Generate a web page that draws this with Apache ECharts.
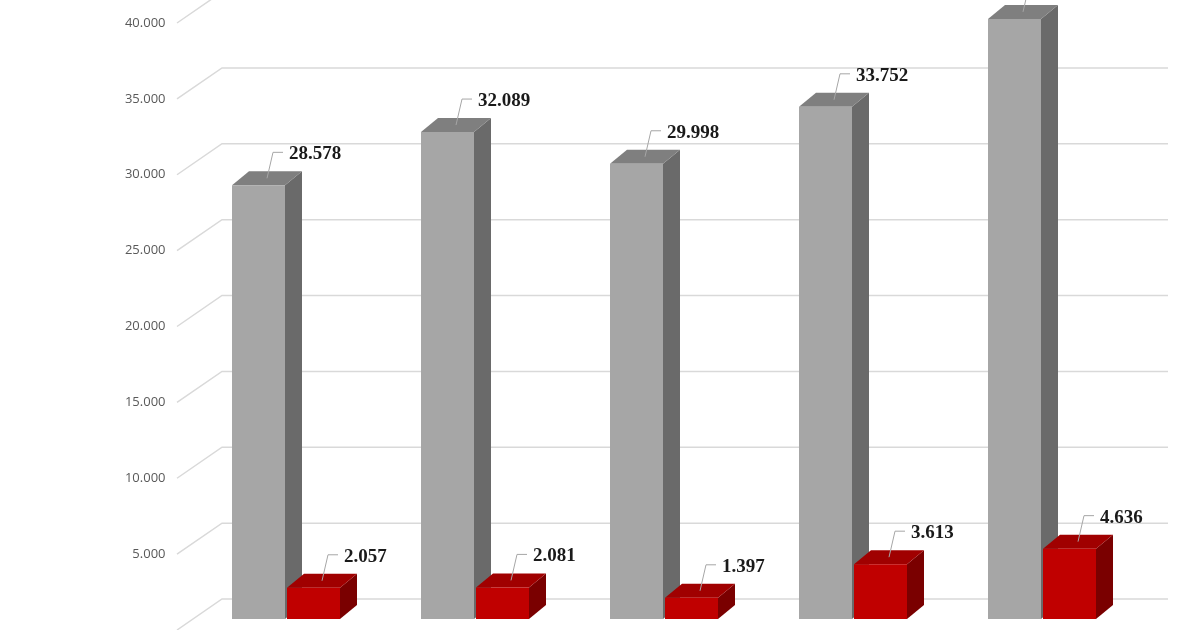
<!DOCTYPE html><html><head><meta charset="utf-8"><script src="https://cdn.jsdelivr.net/npm/echarts@6/dist/echarts.min.js"></script></head><body style="margin:0"><div id="c" style="width:1200px;height:630px"></div><script>
var categories=['1','2','3','4','5'];
var grayValues=[28578,32089,29998,33752,39545];
var redValues=[2057,2081,1397,3613,4636];
var gridTicks=[0,5000,10000,15000,20000,25000,30000,35000,40000];
var ch=echarts.init(document.getElementById('c'));
function fmt(v){return (v/1000).toFixed(3);}
function barSeries(vals,off,cols){
 return {type:'custom',data:vals.map(function(v,i){return [i,v];}),z:5,
 renderItem:function(p,api){
  var c=api.coord([api.value(0),api.value(1)]);var b=api.coord([api.value(0),0]);
  var w=53,dx=17,dy=-14,lift=-11;
  var x0=c[0]+off,x1=x0+w,yt=c[1]+lift,yb=b[1]+lift;
  var tx=x0+w/2+dx/2,ty=yt+dy/2;
  return {type:'group',children:[
   {type:'polygon',shape:{points:[[x1,yt],[x1+dx,yt+dy],[x1+dx,yb+dy],[x1,yb]]},style:{fill:cols[2]}},
   {type:'polygon',shape:{points:[[x0,yt],[x0+dx,yt+dy],[x1+dx,yt+dy],[x1,yt]]},style:{fill:cols[1]}},
   {type:'rect',shape:{x:x0,y:yt,width:w,height:yb-yt},style:{fill:cols[0]}},
   {type:'polyline',shape:{points:[[tx,ty],[tx+6,ty-26],[tx+16,ty-26]]},style:{stroke:'#a6a6a6',lineWidth:1,fill:null}},
   {type:'text',x:tx+22,y:ty-24,style:{text:fmt(api.value(1)),font:'bold 19px "Liberation Serif"',fill:'#1a1a1a',verticalAlign:'middle'}}
  ]};
 }};
}
ch.setOption({animation:false,
grid:{left:190.5,width:945,top:23,height:613},
xAxis:{type:'category',data:categories,axisLine:{show:false},axisTick:{show:false},axisLabel:{show:false}},
yAxis:{type:'value',min:0,max:40000,interval:5000,splitLine:{show:false},axisLine:{show:false},
 axisLabel:{showMinLabel:false,color:'#595959',fontSize:13,fontFamily:'Open Sans',margin:25,formatter:function(v){return fmt(v);}}},
series:[
 {type:'custom',data:gridTicks.map(function(v){return [0,v];}),z:1,
  renderItem:function(p,api){var c=api.coord([0,api.value(1)]);var y=c[1];
   return {type:'polyline',shape:{points:[[177,y],[222,y-31],[1168,y-31]]},style:{stroke:'#d9d9d9',lineWidth:1.5,fill:null}};}},
 barSeries(grayValues,-53,['#a6a6a6','#7f7f7f','#6a6a6a']),
 barSeries(redValues,2,['#c00000','#a00000','#7a0000'])
]});
</script></body></html>
